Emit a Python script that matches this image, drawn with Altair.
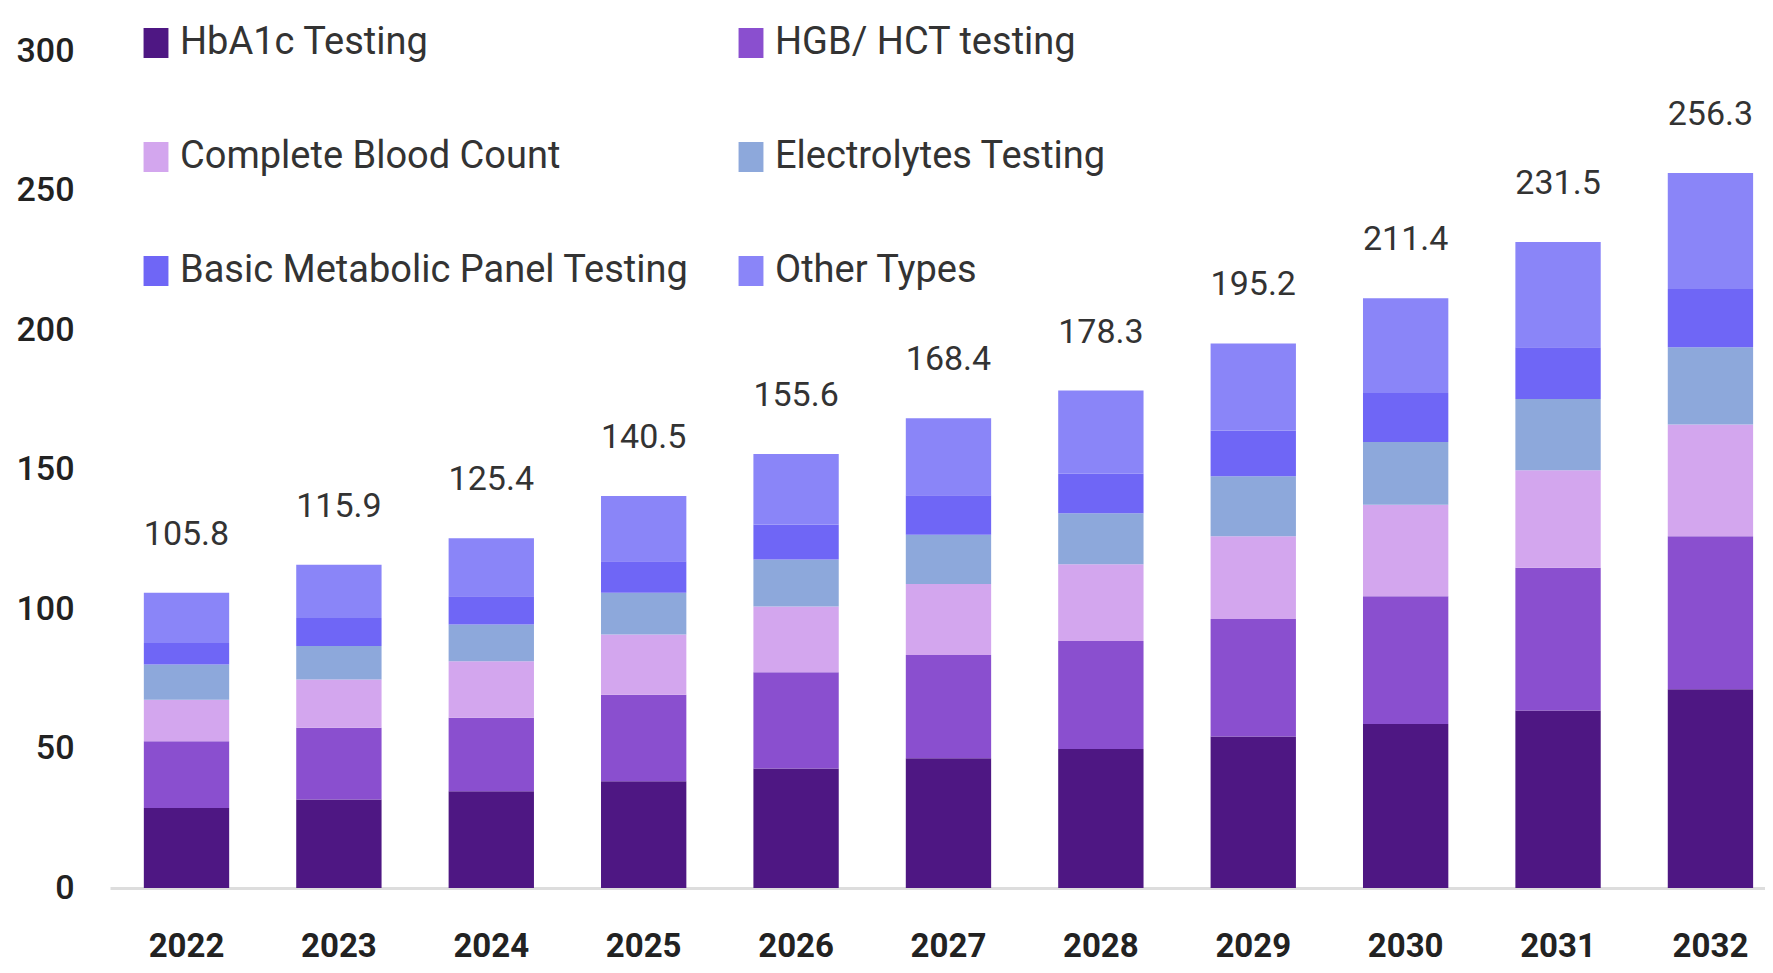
import altair as alt
import pandas as pd

years = ["2022", "2023", "2024", "2025", "2026", "2027", "2028", "2029", "2030", "2031", "2032"]
segments = ["HbA1c Testing", "HGB/ HCT testing", "Complete Blood Count",
            "Electrolytes Testing", "Basic Metabolic Panel Testing", "Other Types"]
colors = ["#4E1783", "#8A4FCF", "#D3A6EE", "#8DA8DB", "#6F66F6", "#8A85F8"]

hba1c = [28.7, 31.7, 34.7, 38.3, 42.8, 46.5, 49.8, 54.3, 58.8, 63.6, 71.2]
hgb = [23.9, 25.7, 26.3, 31.0, 34.5, 37.0, 38.7, 42.1, 45.8, 51.2, 54.9]
cbc = [14.9, 17.3, 20.3, 21.6, 23.6, 25.5, 27.5, 29.7, 32.8, 34.9, 40.0]
electrolytes = [12.6, 12.0, 13.1, 14.9, 16.8, 17.6, 18.3, 21.5, 22.5, 25.6, 27.7]
bmp = [7.7, 10.1, 10.2, 11.3, 12.6, 14.2, 14.2, 16.4, 17.5, 18.5, 20.9]
other = [18.0, 19.1, 20.8, 23.4, 25.3, 27.6, 29.8, 31.2, 34.0, 37.7, 41.6]
totals = [105.8, 115.9, 125.4, 140.5, 155.6, 168.4, 178.3, 195.2, 211.4, 231.5, 256.3]
y_ticks = [0, 50, 100, 150, 200, 250, 300]

series = [hba1c, hgb, cbc, electrolytes, bmp, other]
rows = []
for i, yr in enumerate(years):
    for k, (name, vals) in enumerate(zip(segments, series)):
        rows.append({"year": yr, "segment": name, "value": vals[i], "order": k})
df = pd.DataFrame(rows)
tot_df = pd.DataFrame({"year": years, "total": totals})

FONT = "Roboto"

x_enc = alt.X(
    "year:N", sort=years,
    scale=alt.Scale(paddingInner=0.44, paddingOuter=0.15, align=0.74),
    axis=alt.Axis(title=None, labelAngle=0, ticks=False, domainColor="#dddddd",
                  domainWidth=3, labelFontSize=33, labelFontWeight="bold",
                  labelColor="#222222", labelPadding=42, labelFont=FONT),
)
y_scale = alt.Scale(domain=[0, 300], nice=False, zero=True)

bars = alt.Chart(df).mark_bar().encode(
    x=x_enc,
    y=alt.Y("value:Q", stack="zero", scale=y_scale,
            axis=alt.Axis(values=y_ticks, title=None, ticks=False, domain=False,
                          grid=False, labelFontSize=34, labelFont=FONT,
                          labelColor="#222222", labelFontWeight=500,
                          labelPadding=36)),
    color=alt.Color(
        "segment:N",
        scale=alt.Scale(domain=segments, range=colors),
        legend=alt.Legend(
            orient="none", legendX=27, legendY=-27, columns=2, direction="horizontal",
            title=None,
            symbolType="M-0.83,-1H0.83V1H-0.83Z", symbolSize=900,
            symbolStrokeWidth=0, symbolOpacity=1,
            labelFontSize=38, labelFont=FONT, labelColor="#333333",
            labelLimit=1000, labelOffset=5, rowPadding=76,
            columnPadding=43, padding=0,
        ),
    ),
    order=alt.Order("order:Q", sort="ascending"),
)

labels = alt.Chart(tot_df).mark_text(
    baseline="middle", dy=-58, fontSize=34, font=FONT, color="#333333"
).encode(
    x=alt.X("year:N", sort=years),
    y=alt.Y("total:Q", scale=y_scale),
    text=alt.Text("total:Q", format=".1f"),
)

chart = alt.layer(bars, labels).properties(
    width=1655, height=837,
    autosize=alt.AutoSizeParams(type="none"),
    padding={"left": 102, "top": 43, "right": 0, "bottom": 77},
    background="white",
).configure_view(stroke=None)

chart.save("out.html", embed_options={"renderer": "svg", "actions": False})
